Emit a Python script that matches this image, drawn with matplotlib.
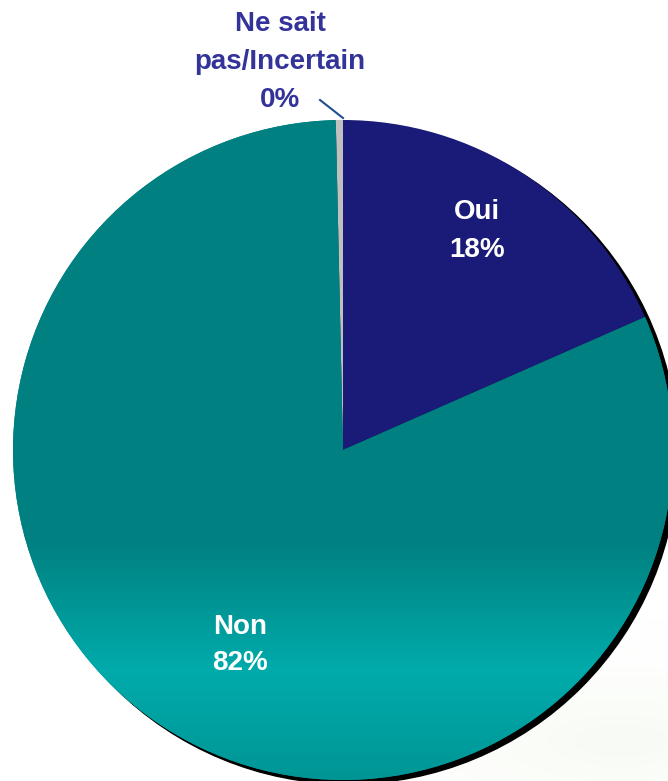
import numpy as np
import matplotlib.pyplot as plt
from matplotlib.patches import Circle

# police proche d'Arial
plt.rcParams['font.family'] = ['Liberation Sans', 'DejaVu Sans']

# données
labels = ['Oui', 'Non', 'Ne sait\npas/Incertain']
values = [18.4, 81.25, 0.35]
pct_labels = ['18%', '82%', '0%']
colors = ['#1a1a78', '#008080', '#c0c0c0']

W, H = 668, 781
fig = plt.figure(figsize=(W / 100, H / 100), dpi=100)
ax = fig.add_axes([0, 0, 1, 1])

# léger halo vert en bas à droite
yy, xx = np.mgrid[0:H, 0:W]
glow = np.zeros((H, W, 4))
glow[..., 0] = 0.90
glow[..., 1] = 0.95
glow[..., 2] = 0.85
glow[..., 3] = 0.25 * np.exp(-(((xx - 620) / 170.0) ** 2 + ((yy - 740) / 60.0) ** 2))
ax.imshow(glow, extent=(0, W, 0, H), origin='upper', aspect='auto', zorder=0)

cx, cy, r = 343, H - 450, 330

# ombre
ax.add_patch(Circle((cx + 5, cy - 4), r, color='black', zorder=1))

wedges, _ = ax.pie(values, colors=colors, startangle=90, counterclock=False,
                   center=(cx, cy), radius=r,
                   wedgeprops=dict(linewidth=0, zorder=2))

# dégradé sur la part "Non"
rows = np.arange(H)
g = np.interp(rows, [0, 540, 670, 781], [0x80, 0x80, 0xAB, 0x95]) / 255.0
grad = np.zeros((H, 1, 3))
grad[:, 0, 1] = g
grad[:, 0, 2] = g
im = ax.imshow(grad, extent=(0, W, 0, H), origin='upper', aspect='auto', zorder=2.5)
im.set_clip_path(wedges[1])

ax.set_xlim(0, W)
ax.set_ylim(0, H)
ax.axis('off')

# étiquettes
ax.text(477, H - 231, f"{labels[0]}\n{pct_labels[0]}", color='white', fontsize=20,
        fontweight='bold', ha='center', va='center', linespacing=1.6, zorder=5)
ax.text(240, H - 645, f"{labels[1]}\n{pct_labels[1]}", color='white', fontsize=20,
        fontweight='bold', ha='center', va='center', linespacing=1.45, zorder=5)
ax.text(280, H - 62, f"{labels[2]}\n{pct_labels[2]}", color='#333399', fontsize=20,
        fontweight='bold', ha='center', va='center', linespacing=1.6, zorder=5)

# trait de rappel
ax.plot([320, 343], [H - 100, H - 118], color='#1f4e8c', lw=1.5, zorder=5)

fig.savefig('out.png', dpi=100)
